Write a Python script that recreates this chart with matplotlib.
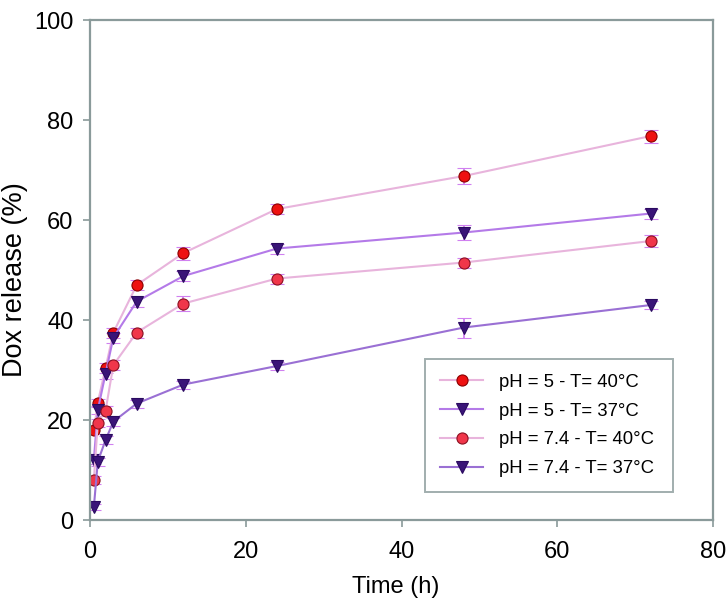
import matplotlib
matplotlib.use("Agg")
import matplotlib.pyplot as plt

time_h = [0.5, 1, 2, 3, 6, 12, 24, 48, 72]
ph5_40 = [18.0, 23.5, 30.4, 37.5, 47.0, 53.4, 62.2, 68.8, 76.8]
ph5_40_err = [0.8, 0.8, 1.0, 1.0, 1.0, 1.3, 1.0, 1.6, 1.3]
ph5_37 = [12.1, 22.0, 29.3, 36.5, 43.7, 48.8, 54.3, 57.5, 61.3]
ph5_37_err = [0.8, 0.8, 1.0, 1.0, 1.0, 1.0, 1.0, 1.5, 1.0]
ph74_40 = [8.1, 19.5, 21.9, 31.0, 37.5, 43.3, 48.3, 51.5, 55.8]
ph74_40_err = [0.8, 0.8, 1.0, 1.0, 1.0, 1.5, 1.0, 1.0, 1.2]
ph74_37 = [2.7, 11.7, 16.0, 19.7, 23.3, 27.1, 30.8, 38.5, 43.0]
ph74_37_err = [0.6, 0.8, 0.8, 0.8, 0.8, 0.8, 0.8, 2.0, 0.8]
labels = ["pH = 5 - T= 40°C", "pH = 5 - T= 37°C", "pH = 7.4 - T= 40°C", "pH = 7.4 - T= 37°C"]

plt.rcParams['font.family'] = ['Liberation Sans', 'DejaVu Sans']

fig = plt.figure(figsize=(7.27, 6.07), dpi=100)
ax = fig.add_axes([0.1238, 0.1433, 0.857, 0.8237])

series = [
    (ph5_40, ph5_40_err, '#e8b4dc', 'o', '#ee1111', '#8a0000', 8),
    (ph5_37, ph5_37_err, '#b47ae8', 'v', '#3a1478', '#2a0a60', 9),
    (ph74_40, ph74_40_err, '#e8b4dc', 'o', '#f0364a', '#8a1020', 8),
    (ph74_37, ph74_37_err, '#9a70d4', 'v', '#3a1478', '#2a0a60', 9),
]
handles = []
for (vals, errs, lc, mk, mfc, mec, ms), lab in zip(series, labels):
    cont = ax.errorbar(time_h, vals, yerr=errs, color=lc, lw=1.5, marker=mk,
                       markersize=ms, markerfacecolor=mfc, markeredgecolor=mec,
                       markeredgewidth=0.8, ecolor='#d080f0', elinewidth=1.3,
                       capsize=5, capthick=1.3, label=lab)
    handles.append(cont.lines[0])

ax.set_xlim(0, 80)
ax.set_ylim(0, 100)
ax.set_xticks([0, 20, 40, 60, 80])
ax.set_yticks([0, 20, 40, 60, 80, 100])
ax.tick_params(direction='out', length=5, width=1.2, color='#8a9a9a',
               labelsize=17, pad=7)
ax.tick_params(axis='x', pad=10)
for s in ax.spines.values():
    s.set_color('#8a9a9a')
    s.set_linewidth(1.6)
ax.set_xlabel('Time (h)', fontsize=17)
ax.xaxis.set_label_coords(0.49, -0.112)
ax.set_ylabel('Dox release (%)', fontsize=19.5)
ax.yaxis.set_label_coords(-0.1, 0.48)

leg = ax.legend(handles, labels, loc='lower left',
                bbox_to_anchor=(0.538, 0.056, 0.397, 0.27),
                mode='expand', fontsize=13.3, frameon=True, fancybox=False,
                borderpad=0.8, labelspacing=0.64, handlelength=2.35,
                handletextpad=0.85, borderaxespad=0)
leg.get_frame().set_edgecolor('#8a9a9a')
leg.get_frame().set_linewidth(1.4)

fig.savefig('out.png', dpi=100)
